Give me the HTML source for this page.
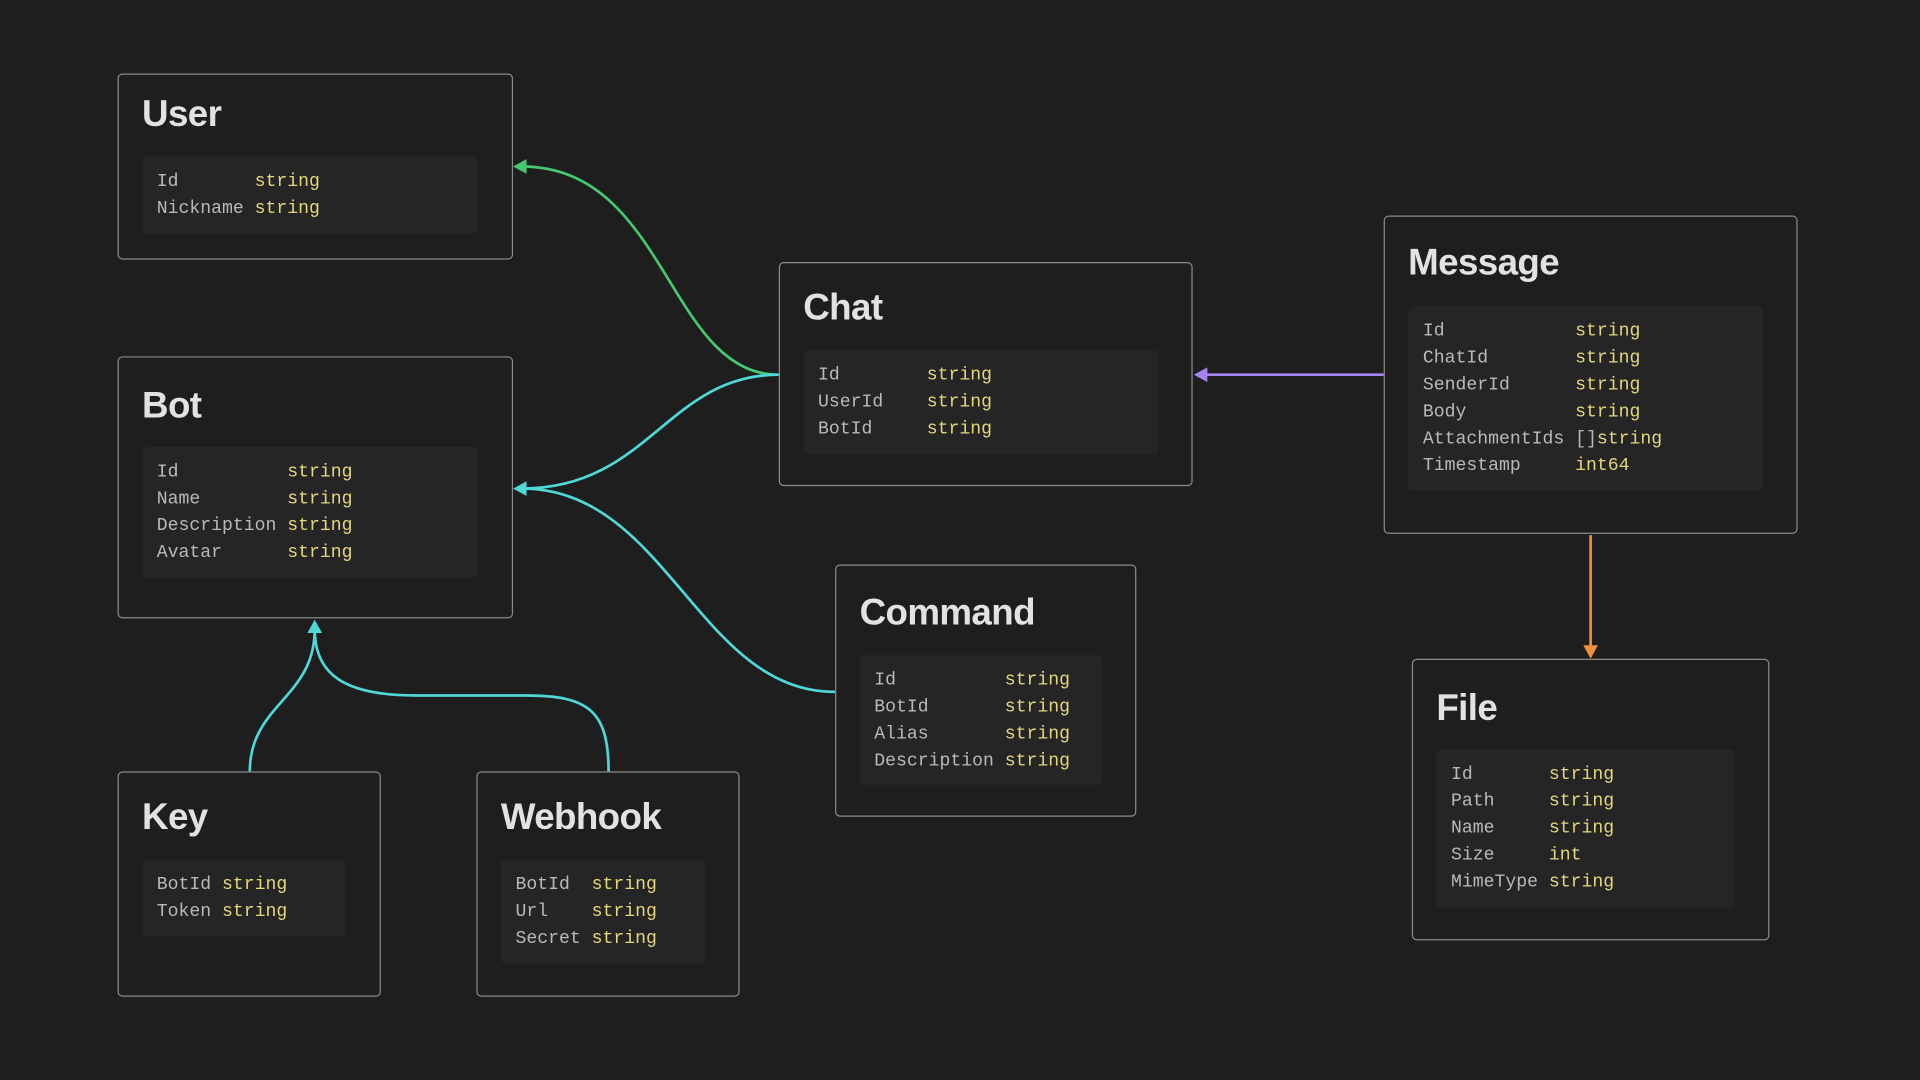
<!DOCTYPE html>
<html><head><meta charset="utf-8"><style>
html,body{margin:0;padding:0;background:#1e1e1e;width:1920px;height:1080px;overflow:hidden}
#s{position:absolute;left:0;top:0;width:1568px;height:882px;transform:scale(1.22449);transform-origin:0 0}
.b{position:absolute;box-sizing:border-box;border:1.5px solid #8a8a8a;border-radius:4px;background:#1e1e1e}
.t{position:absolute;left:19px;font:bold 30px "Liberation Sans",sans-serif;color:#e2e2e2;letter-spacing:-0.5px;line-height:1}
.f{position:absolute;left:19px;background:#252525;border-radius:4px;box-sizing:border-box;padding:10px 12px}
table{border-collapse:collapse;font:14.8px "Liberation Mono",monospace}
td{padding:0;height:22px;line-height:22px;white-space:pre}
td.n{color:#b9b9b9;padding-right:8.9px}
td.y{color:#e3d77a}
.g{color:#b9b9b9}
svg{position:absolute;left:0;top:0}
</style></head><body><div id="s">
<svg width="1568" height="882" fill="none" stroke-width="2.2">
<path d="M636 306 C545 306 545 136 426 136" stroke="#46c872"/>
<polygon points="419,136 430,130 430,142" fill="#46c872"/>
<path d="M636 306 C545 306 530 399 426 399" stroke="#4fd8d8"/>
<path d="M682 565 C570 565 545 399 426 399" stroke="#4fd8d8"/>
<polygon points="419,399 430,393 430,405" fill="#4fd8d8"/>
<path d="M204 630 C204 575 257 570 257 514" stroke="#4fd8d8"/>
<path d="M497 630 C497 580 480 568 430 568 L340 568 C280 568 257 550 257 514" stroke="#4fd8d8"/>
<polygon points="257,506 251,517 263,517" fill="#4fd8d8"/>
<path d="M1130 306 L982 306" stroke="#a683f2"/>
<polygon points="975,306 986,300 986,312" fill="#a683f2"/>
<path d="M1299 437 L1299 530" stroke="#ef8f3a"/>
<polygon points="1299,538 1293,527 1305,527" fill="#ef8f3a"/>
</svg>

<div class="b" style="left:96px;top:60px;width:323px;height:152px">
<div class="t" style="top:18px">User</div>
<div class="f" style="top:67px;width:274px;height:63px"><table>
<tr><td class="n">Id</td><td class="y">string</td></tr>
<tr><td class="n">Nickname</td><td class="y">string</td></tr></table></div></div>

<div class="b" style="left:96px;top:291px;width:323px;height:214px">
<div class="t" style="top:25px">Bot</div>
<div class="f" style="top:73px;width:274px;height:107px"><table>
<tr><td class="n">Id</td><td class="y">string</td></tr>
<tr><td class="n">Name</td><td class="y">string</td></tr>
<tr><td class="n">Description</td><td class="y">string</td></tr>
<tr><td class="n">Avatar</td><td class="y">string</td></tr></table></div></div>

<div class="b" style="left:636px;top:214px;width:338px;height:183px">
<div class="t" style="top:22px">Chat</div>
<div class="f" style="top:71px;width:290px;height:85px"><table>
<tr><td class="n">Id       </td><td class="y">string</td></tr>
<tr><td class="n">UserId   </td><td class="y">string</td></tr>
<tr><td class="n">BotId    </td><td class="y">string</td></tr></table></div></div>

<div class="b" style="left:1130px;top:176px;width:338px;height:260px">
<div class="t" style="top:23px">Message</div>
<div class="f" style="top:73px;width:290px;height:151px"><table>
<tr><td class="n">Id</td><td class="y">string</td></tr>
<tr><td class="n">ChatId</td><td class="y">string</td></tr>
<tr><td class="n">SenderId</td><td class="y">string</td></tr>
<tr><td class="n">Body</td><td class="y">string</td></tr>
<tr><td class="n">AttachmentIds</td><td class="y"><span class="g">[]</span>string</td></tr>
<tr><td class="n">Timestamp</td><td class="y">int64</td></tr></table></div></div>

<div class="b" style="left:682px;top:461px;width:246px;height:206px">
<div class="t" style="top:24px">Command</div>
<div class="f" style="top:73px;width:198px;height:106px"><table>
<tr><td class="n">Id</td><td class="y">string</td></tr>
<tr><td class="n">BotId</td><td class="y">string</td></tr>
<tr><td class="n">Alias</td><td class="y">string</td></tr>
<tr><td class="n">Description</td><td class="y">string</td></tr></table></div></div>

<div class="b" style="left:1153px;top:538px;width:292px;height:230px">
<div class="t" style="top:25px">File</div>
<div class="f" style="top:73px;width:244px;height:130px"><table>
<tr><td class="n">Id</td><td class="y">string</td></tr>
<tr><td class="n">Path</td><td class="y">string</td></tr>
<tr><td class="n">Name</td><td class="y">string</td></tr>
<tr><td class="n">Size</td><td class="y">int</td></tr>
<tr><td class="n">MimeType</td><td class="y">string</td></tr></table></div></div>

<div class="b" style="left:96px;top:630px;width:215px;height:184px">
<div class="t" style="top:22px">Key</div>
<div class="f" style="top:71px;width:166px;height:63px"><table>
<tr><td class="n">BotId</td><td class="y">string</td></tr>
<tr><td class="n">Token</td><td class="y">string</td></tr></table></div></div>

<div class="b" style="left:389px;top:630px;width:215px;height:184px">
<div class="t" style="top:22px">Webhook</div>
<div class="f" style="top:71px;width:167px;height:85px"><table>
<tr><td class="n">BotId</td><td class="y">string</td></tr>
<tr><td class="n">Url</td><td class="y">string</td></tr>
<tr><td class="n">Secret</td><td class="y">string</td></tr></table></div></div>
</div></body></html>
